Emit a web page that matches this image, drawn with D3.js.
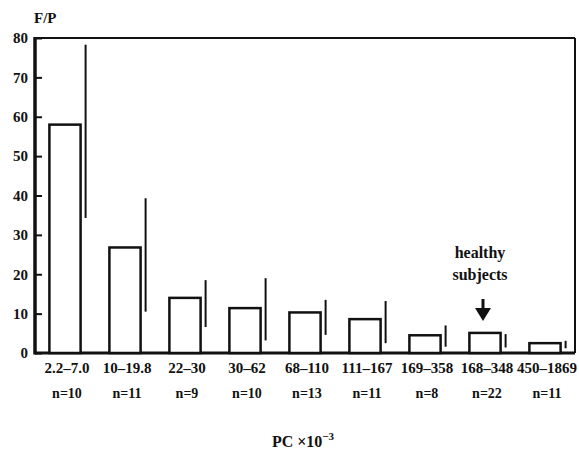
<!DOCTYPE html>
<html>
<head>
<meta charset="utf-8">
<script src="https://cdn.jsdelivr.net/npm/d3@7"></script>
<style>
  body { margin: 0; background: #fff; }
  text { font-family: "Liberation Serif", "DejaVu Serif", serif; font-weight: bold; fill: #111; }
</style>
</head>
<body>
<div id="chart"></div>
<script>
// Data
const categories = ["2.2–7.0", "10–19.8", "22–30", "30–62", "68–110", "111–167", "169–358", "168–348", "450–1869"];
const nLabels = ["n=10", "n=11", "n=9", "n=10", "n=13", "n=11", "n=8", "n=22", "n=11"];
const values = [58, 26.8, 14, 11.4, 10.3, 8.6, 4.5, 5.1, 2.5];
const errLow = [34.3, 10.5, 6.6, 3.2, 4.6, 2.5, 1.6, 1.4, 1.2];
const errHigh = [78.3, 39.3, 18.5, 19, 13.5, 13.2, 7, 4.8, 3.1];
const yTicks = [0, 10, 20, 30, 40, 50, 60, 70, 80];

const width = 579;
const height = 452;
const margin = { top: 38, right: 4, bottom: 99, left: 35 };

const svg = d3.select("#chart")
  .append("svg")
  .attr("width", width)
  .attr("height", height);

const x = d3.scaleBand()
  .domain(categories)
  .range([margin.left, width - margin.right])
  .paddingInner(0.48)
  .paddingOuter(0.24);

const y = d3.scaleLinear()
  .domain([0, 80])
  .range([height - margin.bottom, margin.top]);

// y axis, ticks pointing into the plot
const gy = svg.append("g")
  .attr("transform", `translate(${margin.left},0)`)
  .call(d3.axisLeft(y).tickValues(yTicks).tickSizeInner(-7).tickSizeOuter(0).tickPadding(7));

gy.select(".domain").remove();
gy.selectAll(".tick line").attr("stroke", "#111").attr("stroke-width", 2);
gy.selectAll(".tick text").attr("font-size", 15).attr("fill", "#111");

// frame
const x0 = margin.left, x1 = width - margin.right;
const y0 = y(0), y1 = y(80);
svg.append("line").attr("x1", x0).attr("x2", x1).attr("y1", y1).attr("y2", y1)
  .attr("stroke", "#111").attr("stroke-width", 2);
svg.append("line").attr("x1", x1).attr("x2", x1).attr("y1", y1).attr("y2", y0)
  .attr("stroke", "#111").attr("stroke-width", 2);
svg.append("line").attr("x1", x0).attr("x2", x0).attr("y1", y1 - 1).attr("y2", y0 + 1.5)
  .attr("stroke", "#111").attr("stroke-width", 3.5);
svg.append("line").attr("x1", x0).attr("x2", x1).attr("y1", y0).attr("y2", y0)
  .attr("stroke", "#111").attr("stroke-width", 3);

// bars
svg.selectAll("rect.bar")
  .data(values)
  .join("rect")
  .attr("class", "bar")
  .attr("x", (d, i) => x(categories[i]))
  .attr("y", d => y(d))
  .attr("width", x.bandwidth())
  .attr("height", d => y0 - y(d))
  .attr("fill", "#fff")
  .attr("stroke", "#111")
  .attr("stroke-width", 2.5);

// error lines, drawn just right of each bar
svg.selectAll("line.err")
  .data(values)
  .join("line")
  .attr("class", "err")
  .attr("x1", (d, i) => x(categories[i]) + x.bandwidth() + 5)
  .attr("x2", (d, i) => x(categories[i]) + x.bandwidth() + 5)
  .attr("y1", (d, i) => y(errHigh[i]))
  .attr("y2", (d, i) => y(errLow[i]))
  .attr("stroke", "#111")
  .attr("stroke-width", 2);

// category labels
svg.selectAll("text.cat")
  .data(categories)
  .join("text")
  .attr("class", "cat")
  .attr("x", d => x(d) + x.bandwidth() / 2 + 2)
  .attr("y", 373)
  .attr("text-anchor", "middle")
  .attr("font-size", 15)
  .text(d => d);

svg.selectAll("text.n")
  .data(nLabels)
  .join("text")
  .attr("class", "n")
  .attr("x", (d, i) => x(categories[i]) + x.bandwidth() / 2 + 2)
  .attr("y", 398)
  .attr("text-anchor", "middle")
  .attr("font-size", 14)
  .text(d => d);

// axis titles
svg.append("text")
  .attr("x", 34)
  .attr("y", 23)
  .attr("font-size", 15)
  .text("F/P");

const xt = svg.append("text")
  .attr("x", 303)
  .attr("y", 447)
  .attr("text-anchor", "middle")
  .attr("font-size", 16);
xt.append("tspan").text("PC ×10");
xt.append("tspan").attr("dy", -7).attr("font-size", 11).text("−3");

// healthy subjects annotation
const hx = x("168–348") + x.bandwidth() / 2;
svg.append("text")
  .attr("x", hx - 5)
  .attr("y", 258)
  .attr("text-anchor", "middle")
  .attr("font-size", 16)
  .text("healthy");
svg.append("text")
  .attr("x", hx - 5)
  .attr("y", 280)
  .attr("text-anchor", "middle")
  .attr("font-size", 16)
  .text("subjects");

svg.append("line")
  .attr("x1", hx - 2).attr("x2", hx - 2)
  .attr("y1", 299).attr("y2", 312)
  .attr("stroke", "#111").attr("stroke-width", 3);
svg.append("path")
  .attr("d", `M${hx - 10},${308} L${hx + 6},${308} L${hx - 2},${321} Z`)
  .attr("fill", "#111");
</script>
</body>
</html>
